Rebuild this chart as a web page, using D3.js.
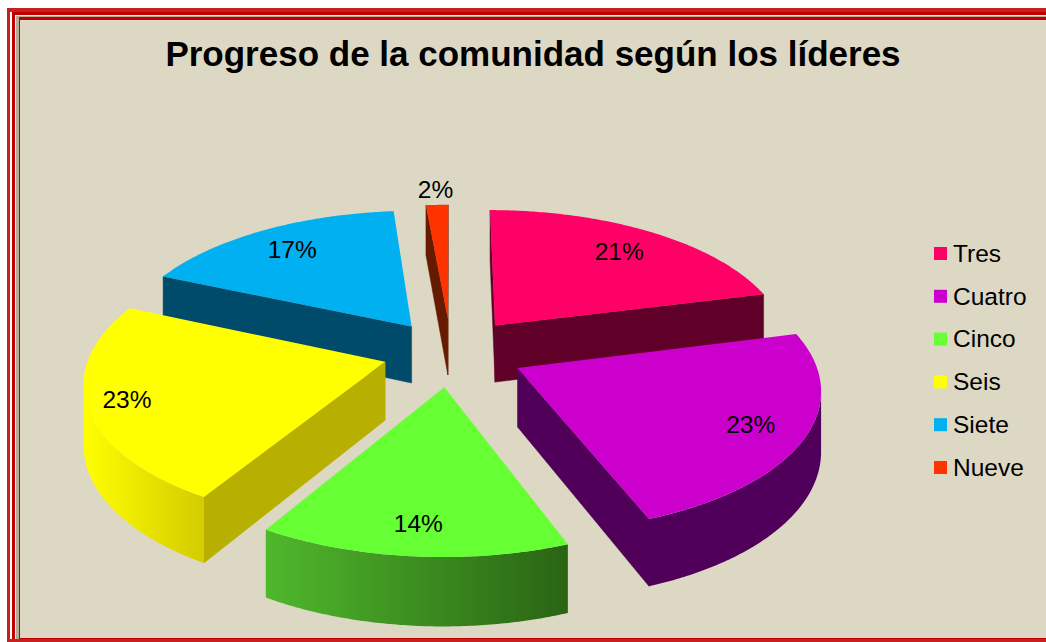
<!DOCTYPE html>
<html><head><meta charset="utf-8">
<script src="https://cdn.jsdelivr.net/npm/d3@7"></script>
<style>html,body{margin:0;padding:0;background:#fff;overflow:hidden}svg{display:block}text{font-family:"Liberation Sans",Arial,sans-serif;fill:#000}</style>
</head><body><svg id="c" width="1046" height="642"></svg>
<script>
const titleText = "Progreso de la comunidad según los líderes";
const categories = ["Tres","Cuatro","Cinco","Seis","Siete","Nueve"];
const values = [21,23.2,14.4,23,17,1.4];
const labels = ["21%","23%","14%","23%","17%","2%"];
const explode = [0.25,0.25,0.25,0.232,0.235,0.25];
const topColors = ["#ff0066","#cc00cc","#66ff33","#ffff00","#00b0f0","#ff3300"];
const wallColors = ["#600028","#500058","#3f8f20","#b8b000","#004a6a","#661a00"];
const arcStart = ["#600028","#50005a","#4fb82c","#ffff00","#004a6a","#661a00"];
const arcEnd = ["#600028","#50005a","#2a6414","#d4cc00","#004a6a","#661a00"];
const labelRadius = [0.78,0.82,0.83,0.87,0.79,1.16];
const drawOrder = ["Siete","Nueve","Tres","Seis","Cuatro","Cinco"];

const svg=d3.select("#c");
const defs=svg.append("defs");
// frame
const frame=svg.append("g");
const rectF=(x,y,w,h,c)=>frame.append("rect").attr("x",x).attr("y",y).attr("width",w).attr("height",h).attr("fill",c);
rectF(7,8,1100,700,"#c42020");
rectF(10,12,1100,700,"#ffffff");
rectF(12,12,1100,700,"#c00000");
rectF(15,15,1100,700,"#f4ece0");
rectF(16,16,1100,700,"#b5ab96");
rectF(19,17,1100,622,"#c00000");
rectF(20,20,1100,618,"#ddd8c3");
rectF(0,639,1046,3,"#c42020");
rectF(0,639,7,3,"#ffffff");

// world model
const R=295,K=0.465,D=7.6,CX=451,CY=352,DEPTH=58;
const persp=Y=>D/(D-Y);
const px=(X,Y)=>CX+R*X*persp(Y);
const py=(X,Y,low)=>CY+R*K*Y*persp(Y)+(low?DEPTH*persp(Y):0);
const pie=d3.pie().sort(null).value(d=>d)(values);
const line=d3.line();

const gPie=svg.append("g");
const slices=pie.map((p,i)=>{
  const mid=(p.startAngle+p.endAngle)/2;
  const ox=explode[i]*Math.sin(mid),oy=-explode[i]*Math.cos(mid);
  const pt=(a,r,low)=>{const X=ox+r*Math.sin(a),Y=oy-r*Math.cos(a);return [px(X,Y),py(X,Y,low)];};
  return {i,name:categories[i],a0:p.startAngle,a1:p.endAngle,mid,pt};
});
const area=q=>d3.polygonArea(q);
drawOrder.forEach(name=>{
  const s=slices.find(d=>d.name===name),i=s.i,g=gPie.append("g");
  // radial walls
  [[s.a0,1],[s.a1,-1]].forEach(([a,sgn])=>{
    const q=[s.pt(a,0,false),s.pt(a,1,false),s.pt(a,1,true),s.pt(a,0,true)];
    if(area(q)*sgn>0) g.append("path").attr("d",line(q)+"Z").attr("fill",wallColors[i]).attr("stroke",wallColors[i]).attr("stroke-width",0.5);
  });
  // outer wall
  const n=Math.ceil((s.a1-s.a0)/0.01);
  const angles=d3.range(n+1).map(k=>s.a0+(s.a1-s.a0)*k/n);
  let vis=[];
  for(let k=0;k<n;k++){
    const q=[s.pt(angles[k],1,false),s.pt(angles[k+1],1,false),s.pt(angles[k+1],1,true),s.pt(angles[k],1,true)];
    if(area(q)>0) vis.push(k);
  }
  if(vis.length){
    const as=[...vis.map(k=>angles[k]),angles[vis[vis.length-1]+1]];
    const q=[...as.map(a=>s.pt(a,1,false)),...as.slice().reverse().map(a=>s.pt(a,1,true))];
    const xs=q.map(d=>d[0]);
    const gid="g"+i;
    const gr=defs.append("linearGradient").attr("id",gid).attr("gradientUnits","userSpaceOnUse")
      .attr("x1",d3.min(xs)).attr("x2",d3.max(xs)).attr("y1",0).attr("y2",0);
    gr.append("stop").attr("offset","0").attr("stop-color",arcStart[i]);
    gr.append("stop").attr("offset","1").attr("stop-color",arcEnd[i]);
    g.append("path").attr("d",line(q)+"Z").attr("fill",`url(#${gid})`);
  }
  // top
  const top=[s.pt(s.a0,0,false),...angles.map(a=>s.pt(a,1,false))];
  g.append("path").attr("d",line(top)+"Z").attr("fill",topColors[i]);
});
// labels
slices.forEach(s=>{
  const p=s.pt(s.mid,labelRadius[s.i],false);
  svg.append("text").attr("x",p[0]).attr("y",p[1]).attr("dy","0.35em").attr("text-anchor","middle")
    .attr("font-size",24.5).text(labels[s.i]);
});
// title
svg.append("text").attr("x",533).attr("y",66).attr("text-anchor","middle").attr("font-size",35).attr("font-weight","bold").text(titleText);
// legend
const ly=d3.scalePoint().domain(categories).range([253,467]);
const leg=svg.append("g").selectAll("g").data(categories).join("g").attr("transform",d=>`translate(0,${ly(d)})`);
leg.append("rect").attr("x",934).attr("y",-6).attr("width",13).attr("height",13).attr("fill",(d,i)=>topColors[i]);
leg.append("text").attr("x",953).attr("y",0).attr("dy","0.36em").attr("font-size",24.5).text(d=>d);
</script></body></html>
